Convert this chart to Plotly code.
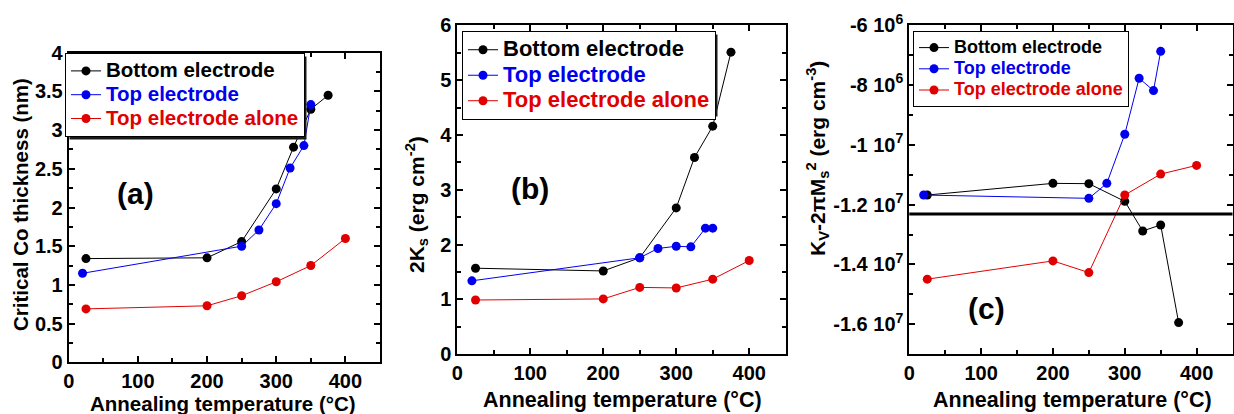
import plotly.graph_objects as go

# ---------------- data ----------------
T_bottom = [25, 200, 250, 300, 325, 350, 375]
T_top = [20, 250, 275, 300, 320, 340, 350]
T_alone = [25, 200, 250, 300, 350, 400]

a_bottom = [1.34, 1.35, 1.56, 2.24, 2.78, 3.27, 3.45]
a_top = [1.15, 1.50, 1.71, 2.05, 2.51, 2.80, 3.33]
a_alone = [0.69, 0.73, 0.86, 1.04, 1.25, 1.60]

b_bottom = [1.57, 1.52, 1.76, 2.67, 3.59, 4.16, 5.51]
b_top = [1.34, 1.76, 1.93, 1.97, 1.96, 2.30, 2.30]
b_alone = [0.99, 1.01, 1.22, 1.21, 1.37, 1.71]

c_bottom = [-11.68e6, -11.29e6, -11.30e6, -11.89e6, -12.88e6, -12.68e6, -15.94e6]
c_top = [-11.68e6, -11.79e6, -11.29e6, -9.65e6, -7.78e6, -8.19e6, -6.88e6]
c_alone = [-14.49e6, -13.88e6, -14.27e6, -11.68e6, -10.98e6, -10.69e6]
c_ref_line = -12.31e6

series_names = ["Bottom electrode", "Top electrode", "Top electrode alone"]
c_tickvals = [-6e6, -8e6, -1e7, -1.2e7, -1.4e7, -1.6e7]
c_ticktext = ["-6 10<sup>6</sup>", "-8 10<sup>6</sup>", "-1 10<sup>7</sup>",
              "-1.2 10<sup>7</sup>", "-1.4 10<sup>7</sup>", "-1.6 10<sup>7</sup>"]

# ---------------- style ----------------
W, H = 1234, 414
FONT = "Liberation Sans"
BLACK, BLUE, RED = "#000000", "#0000ee", "#e00000"
colors = [BLACK, BLUE, RED]


def px(x):
    return x / W


def py(y):
    return 1 - y / H


fig = go.Figure()

# (suffix, legend id, display font size of legend text)
panels = [
    ("", "legend", 20.5, [a_bottom, a_top, a_alone]),
    ("2", "legend2", 22, [b_bottom, b_top, b_alone]),
    ("3", "legend3", 18, [c_bottom, c_top, c_alone]),
]
Ts = [T_bottom, T_top, T_alone]

for suf, leg, fs, ys in panels:
    for name, col, x, y in zip(series_names, colors, Ts, ys):
        label = f"<span style='color:{col};font-size:{fs}px'>{name}</span>"
        fig.add_trace(go.Scatter(
            x=x, y=y, mode="lines+markers", name=label,
            line=dict(color=col, width=1),
            marker=dict(color=col, size=9),
            xaxis="x" + suf, yaxis="y" + suf, legend=leg,
        ))

tickfont = dict(family=FONT, size=20, color="black", weight="bold")


def xax(domain, anchor):
    return dict(domain=domain, anchor=anchor, range=[0, 450], dtick=100, tick0=0,
                showline=True, linewidth=2, linecolor="black", mirror="allticks",
                ticks="inside", ticklen=6, tickwidth=2, tickcolor="black",
                minor=dict(ticks="inside", ticklen=4, tickwidth=2, dtick=50, tick0=0, tickcolor="black"),
                showgrid=False, zeroline=False, tickfont=tickfont, automargin=False)


def yax(domain, anchor, rng, dtick, minor_dtick, **kw):
    d = dict(domain=domain, anchor=anchor, range=rng, dtick=dtick,
             showline=True, linewidth=2, linecolor="black", mirror="allticks",
             ticks="inside", ticklen=6, tickwidth=2, tickcolor="black",
             minor=dict(ticks="inside", ticklen=4, tickwidth=2, dtick=minor_dtick, tick0=0, tickcolor="black"),
             showgrid=False, zeroline=False, tickfont=tickfont, automargin=False)
    d.update(kw)
    return d


dom_a_x = [px(68.7), px(380)]
dom_a_y = [py(362.3), py(52.7)]
dom_b_x = [px(457.3), px(785.7)]
dom_b_y = [py(354.3), py(25.3)]
dom_c_x = [px(909.3), px(1232.5)]
dom_c_y = [py(354.3), py(25)]


def legfont(s):
    return dict(family=FONT, size=s, color="black", weight="bold")


fig.update_layout(
    width=W, height=H,
    margin=dict(l=0, r=0, t=0, b=0, autoexpand=False),
    paper_bgcolor="white", plot_bgcolor="white",
    xaxis=xax(dom_a_x, "y"),
    yaxis=yax(dom_a_y, "x", [0, 4], 0.5, 0.25),
    xaxis2=xax(dom_b_x, "y2"),
    yaxis2=yax(dom_b_y, "x2", [0, 6], 1, 0.5),
    xaxis3=xax(dom_c_x, "y3"),
    yaxis3=yax(dom_c_y, "x3", [-1.7e7, -6e6], None, 1e6,
               tickmode="array", tickvals=c_tickvals, ticktext=c_ticktext),
    legend=dict(x=px(65), y=py(53), xanchor="left", yanchor="top",
                bgcolor="white", bordercolor="black", borderwidth=1,
                font=legfont(16), itemwidth=30),
    legend2=dict(x=px(462), y=py(31), xanchor="left", yanchor="top",
                 bgcolor="white", bordercolor="black", borderwidth=1,
                 font=legfont(17.3), itemwidth=30),
    legend3=dict(x=px(913), y=py(31), xanchor="left", yanchor="top",
                 bgcolor="white", bordercolor="black", borderwidth=1,
                 font=legfont(14), itemwidth=30),
    showlegend=True,
)

# horizontal reference line in panel (c)
fig.add_shape(type="line", xref="x3 domain", yref="y3", x0=0, x1=1,
              y0=c_ref_line, y1=c_ref_line, line=dict(color="black", width=3))

# drop shadows behind the legend boxes (legend boxes drawn on top)
SH = 2.5
for (x0, y0, x1, y1) in [(67, 54, 304, 137), (464, 32, 715, 114), (917, 32, 1126, 104)]:
    fig.add_shape(type="rect", xref="paper", yref="paper",
                  x0=px(x0 + SH), x1=px(x1 + SH), y0=py(y1 + SH), y1=py(y0 + SH),
                  fillcolor="#1a1a1a", line=dict(width=0), layer="above")

annfont = lambda s: dict(family=FONT, size=s, color="black", weight="bold")
anns = [
    ("(a)", 135, 193, 30, 0), ("(b)", 530, 188, 30, 0), ("(c)", 987, 308, 30, 0),
    ("Annealing temperature (°C)", 223, 403, 20.5, 0),
    ("Annealing temperature (°C)", 622, 400, 21.5, 0),
    ("Annealing temperature (°C)", 1072, 400, 21.5, 0),
    ("Critical Co thickness (nm)", 20, 205, 20.5, -90),
    ("2K<sub>s</sub> (erg cm<sup>-2</sup>)", 416, 205, 21, -90),
    ("K<sub>V</sub>-2πM<sub>s</sub><sup>2</sup> (erg cm<sup>-3</sup>)", 818, 159, 21, -90),
]
for text, x, y, s, ang in anns:
    fig.add_annotation(text=text, x=px(x), y=py(y), xref="paper", yref="paper",
                       xanchor="center", yanchor="middle", showarrow=False,
                       textangle=ang, font=annfont(s))

fig.write_html("out.html",
               config={"displayModeBar": False},
               post_script="document.body.style.margin='0';document.body.style.padding='0';"
                           "document.documentElement.style.overflow='hidden';")
